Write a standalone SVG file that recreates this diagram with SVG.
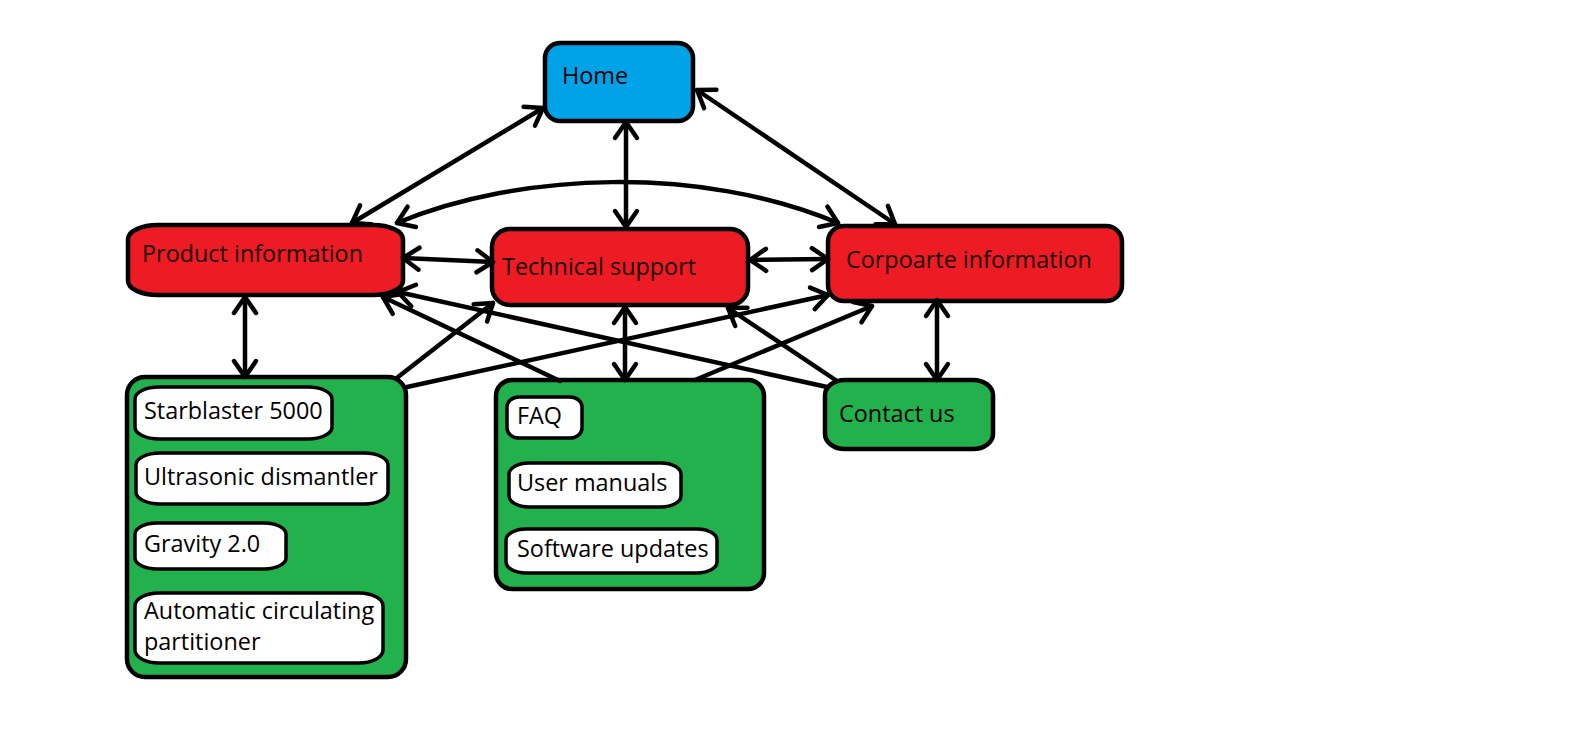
<svg xmlns="http://www.w3.org/2000/svg" width="1594" height="756" viewBox="0 0 1594 756">
  <style>
    .box { stroke: #000; stroke-width: 4.5; }
    .blue { fill: #00A2E8; }
    .red { fill: #ED1C24; }
    .green { fill: #22B14C; }
    .item { fill: #fff; stroke: #000; stroke-width: 3.5; }
    .label { font-family: "Open Sans", "Noto Sans", sans-serif; font-size: 23.4px; fill: #000; }
    .red-label { fill: #1a0000; }
    .link { fill: none; stroke: #000; stroke-width: 4.5; stroke-linecap: round; }
    .both { marker-start: url(#tip); marker-end: url(#tip); }
    .one { marker-end: url(#tip); }
  </style>
  <defs>
    <marker id="tip" markerUnits="userSpaceOnUse" viewBox="-20 -14 24 28" refX="0" refY="0" markerWidth="24" markerHeight="28" orient="auto-start-reverse" overflow="visible">
      <path d="M-16,-11 L0,0 L-16,11" fill="none" stroke="#000" stroke-width="4.5" stroke-linecap="round" stroke-linejoin="round"/>
    </marker>
  </defs>

  <rect width="1594" height="756" fill="#fff"/>

  <g id="home">
    <rect class="box blue" x="545" y="43" width="148" height="78" rx="15"/>
    <text class="label" x="562" y="84">Home</text>
  </g>

  <g id="product-information">
    <rect class="box red" x="128" y="225" width="275" height="70" rx="30" ry="14"/>
    <text class="label red-label" x="142" y="262">Product information</text>
  </g>

  <g id="technical-support">
    <rect class="box red" x="492" y="229" width="256" height="76" rx="18"/>
    <text class="label red-label" x="502" y="275">Technical support</text>
  </g>

  <g id="corporate-information">
    <rect class="box red" x="828" y="226" width="294" height="75" rx="16"/>
    <text class="label red-label" x="846" y="268">Corpoarte information</text>
  </g>

  <g id="products">
    <rect class="box green" x="127" y="377" width="279" height="300" rx="18"/>
    <g id="starblaster">
      <rect class="item" x="135" y="387" width="197" height="52" rx="24" ry="12"/>
      <text class="label" x="144" y="419">Starblaster 5000</text>
    </g>
    <g id="ultrasonic">
      <rect class="item" x="136" y="453" width="252" height="51" rx="24" ry="12"/>
      <text class="label" x="144" y="485">Ultrasonic dismantler</text>
    </g>
    <g id="gravity">
      <rect class="item" x="135" y="523" width="151" height="46" rx="22" ry="11"/>
      <text class="label" x="144" y="552">Gravity 2.0</text>
    </g>
    <g id="partitioner">
      <rect class="item" x="135" y="593" width="248" height="70" rx="24" ry="13"/>
      <text class="label" x="144" y="619">Automatic circulating</text>
      <text class="label" x="144" y="650">partitioner</text>
    </g>
  </g>

  <g id="support-pages">
    <rect class="box green" x="496" y="380" width="268" height="209" rx="16"/>
    <g id="faq">
      <rect class="item" x="507" y="397" width="75" height="41" rx="12" ry="10"/>
      <text class="label" x="517" y="424">FAQ</text>
    </g>
    <g id="user-manuals">
      <rect class="item" x="509" y="463" width="172" height="44" rx="20" ry="11"/>
      <text class="label" x="517" y="491">User manuals</text>
    </g>
    <g id="software-updates">
      <rect class="item" x="506" y="529" width="211" height="44" rx="20" ry="11"/>
      <text class="label" x="517" y="557">Software updates</text>
    </g>
  </g>

  <g id="contact-us">
    <rect class="box green" x="825" y="380" width="168" height="69" rx="20" ry="15"/>
    <text class="label" x="839" y="422">Contact us</text>
  </g>

  <g id="connectors">
    <line class="link both" x1="543" y1="108" x2="352" y2="223"/>
    <line class="link both" x1="626" y1="122" x2="626" y2="227"/>
    <line class="link both" x1="697" y1="90" x2="895" y2="224"/>
    <path class="link both" d="M397,223 C520,172 700,165 838,223"/>
    <line class="link both" x1="403" y1="258" x2="493" y2="262"/>
    <line class="link both" x1="750" y1="260" x2="828" y2="259"/>
    <line class="link both" x1="245" y1="297" x2="245" y2="377"/>
    <line class="link both" x1="625" y1="307" x2="625" y2="380"/>
    <line class="link both" x1="937" y1="300" x2="937" y2="380"/>
    <line class="link one" x1="398" y1="377" x2="493" y2="303"/>
    <line class="link one" x1="407" y1="387" x2="828" y2="295"/>
    <line class="link one" x1="560" y1="381" x2="383" y2="297"/>
    <line class="link one" x1="695" y1="380" x2="872" y2="306"/>
    <line class="link one" x1="827" y1="387" x2="398" y2="292"/>
    <line class="link one" x1="837" y1="381" x2="728" y2="308"/>
  </g>
</svg>
